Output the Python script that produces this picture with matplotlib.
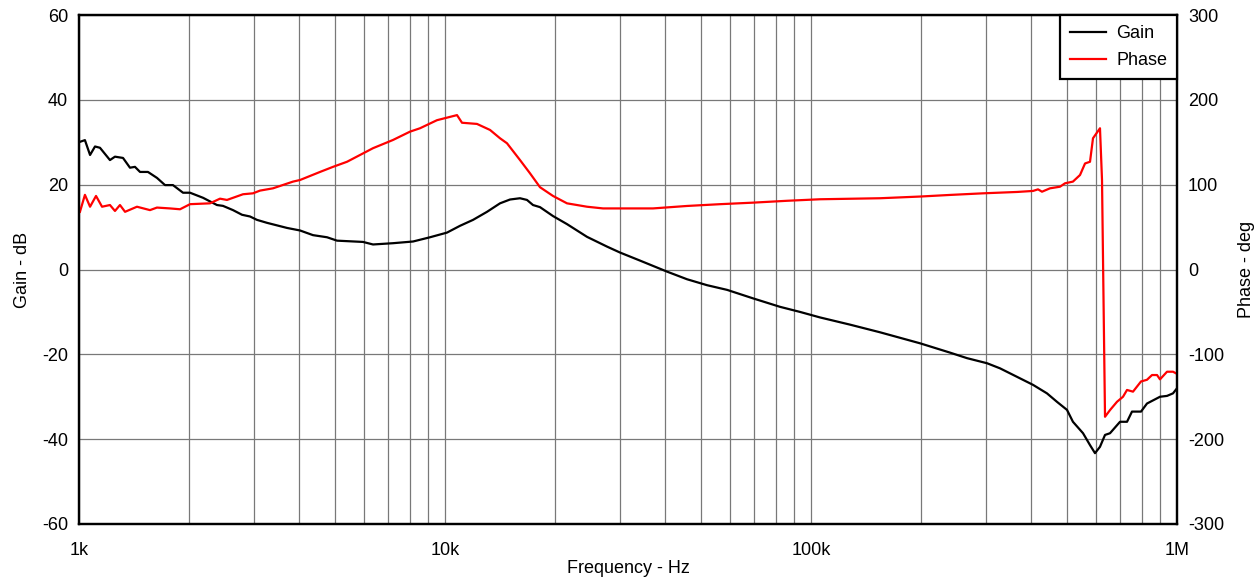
import matplotlib
matplotlib.use("Agg")
import matplotlib.pyplot as plt
from matplotlib.ticker import FixedLocator, NullFormatter, LogLocator

plt.rcParams['font.family'] = ['Liberation Sans', 'DejaVu Sans']
plt.rcParams['axes.unicode_minus'] = False

# ---- data ----
gain_freq = [1006, 1038, 1072, 1106, 1141, 1215, 1254, 1319, 1378, 1422, 1468, 1543, 1633, 1718,
             1806, 1924, 2011, 2183, 2382, 2474, 2635, 2789, 2932, 3064, 3264, 3701, 4017, 4358,
             4761, 5070, 5970, 6358, 7211, 8178, 9100, 10127, 10990, 11929, 13026, 14135, 15053,
             16031, 16749, 17395, 18180, 19728, 21544, 24434, 27711, 30071, 34105, 40427, 45850,
             51999, 58970, 69418, 82288, 93317, 105830, 127830, 154330, 198590, 239840, 266840,
             302680, 328400, 365400, 404300, 441300, 470000, 500600, 519600, 553700, 578500,
             597000, 616000, 635800, 656100, 698800, 730200, 753400, 797300, 827900, 898600,
             939100, 975200, 1000000]
gain_db = [30.1, 30.5, 27.0, 29.0, 28.7, 25.8, 26.6, 26.3, 24.0, 24.2, 23.0, 23.0, 21.6, 19.9,
           19.9, 18.1, 18.1, 16.9, 15.2, 15.0, 14.0, 12.9, 12.5, 11.7, 11.0, 9.8, 9.2, 8.1,
           7.6, 6.8, 6.5, 5.9, 6.2, 6.6, 7.6, 8.7, 10.3, 11.7, 13.6, 15.6, 16.5,
           16.8, 16.4, 15.2, 14.7, 12.6, 10.7, 7.7, 5.4, 4.0, 2.1, -0.5, -2.3,
           -3.7, -4.8, -6.8, -8.8, -10.0, -11.3, -13.0, -14.8, -17.4, -19.6, -20.9,
           -22.1, -23.3, -25.3, -27.2, -29.2, -31.2, -33.1, -35.9, -38.6, -41.4,
           -43.3, -41.8, -39.0, -38.6, -35.9, -35.9, -33.5, -33.5, -31.6, -30.0,
           -29.8, -29.2, -28.0]

phase_freq = [1006, 1038, 1072, 1113, 1156, 1215, 1254, 1294, 1336, 1440, 1563, 1633, 1772, 1888,
              2011, 2280, 2428, 2537, 2806, 2988, 3123, 3389, 3843, 4017, 4555, 4943, 5399, 6358,
              7211, 8024, 8545, 9508, 10785, 11128, 12229, 13275, 14135, 14770, 16031, 17070,
              18180, 19728, 21544, 24434, 27025, 37010, 45850, 56430, 69418, 85990, 105830,
              154330, 198590, 239840, 295100, 365400, 404300, 417100, 427700, 449800, 479000,
              494300, 519600, 543300, 560700, 578500, 589500, 616000, 623900, 635800, 656100,
              685700, 712000, 730200, 758200, 797300, 827900, 854600, 882000, 898600, 939100,
              975200, 1000000]
phase_deg = [68, 88, 74, 86.7, 74, 76, 69, 76, 68, 74, 70, 73, 72, 71,
             77, 78, 83.5, 82, 88.7, 89.8, 93, 95.7, 103.6, 105.5, 115, 121, 127, 143,
             152.7, 162.5, 166.5, 176, 182, 173, 171.6, 164.5, 154.7, 148.8, 129, 113.4,
             97, 86.7, 78, 74, 72, 72, 74.9, 77, 78.8, 81, 82.8,
             84, 86, 87.9, 89.8, 91.4, 92.6, 94.5, 91.7, 95.7, 97.6,
             101.6, 103.6, 111.4, 125, 127, 154.7, 166.5, 105.5, -173.6, -165.7,
             -155.9, -150, -142, -144, -132, -130, -124.4, -124.4, -129.5, -120.5,
             -120.5, -123]

gain_ticks = [-60, -40, -20, 0, 20, 40, 60]
phase_ticks = [-300, -200, -100, 0, 100, 200, 300]
x_ticks = [1e3, 1e4, 1e5, 1e6]
x_ticklabels = ['1k', '10k', '100k', '1M']

# ---- figure ----
fig = plt.figure(figsize=(12.6, 5.84), dpi=100)
ax = fig.add_axes([79/1260, 1 - 524/584, (1177 - 79)/1260, (524 - 15)/584])
ax2 = ax.twinx()

ax.set_xscale('log')
ax.set_xlim(1e3, 1e6)
ax.set_ylim(-60, 60)
ax2.set_ylim(-300, 300)

ax.xaxis.set_major_locator(FixedLocator(x_ticks))
ax.set_xticklabels(x_ticklabels)
ax.xaxis.set_minor_locator(LogLocator(base=10, subs=range(2, 10)))
ax.xaxis.set_minor_formatter(NullFormatter())
ax.set_yticks(gain_ticks)
ax2.set_yticks(phase_ticks)

ax.grid(True, which='both', axis='x', color='#787878', linewidth=0.9)
ax.grid(True, which='major', axis='y', color='#787878', linewidth=0.9)

for a in (ax, ax2):
    a.tick_params(which='both', length=0, labelsize=13, pad=8)
    for s in a.spines.values():
        s.set_linewidth(1.6)
        s.set_color('black')
ax.tick_params(axis='x', pad=13)

l1, = ax2.plot(gain_freq, [g * 5 for g in gain_db], color='black', linewidth=1.6, label='Gain')
l2, = ax2.plot(phase_freq, phase_deg, color='#ff0000', linewidth=1.6, label='Phase')

ax.set_xlabel('Frequency - Hz', fontsize=13, labelpad=1)
ax.set_ylabel('Gain - dB', fontsize=13, labelpad=8)
ax2.set_ylabel('Phase - deg', fontsize=13, labelpad=10)

leg = ax2.legend(handles=[l1, l2], loc='upper right', fontsize=13, frameon=True,
                 fancybox=False, framealpha=1, edgecolor='black', borderaxespad=0,
                 handlelength=2.0, handletextpad=0.55, labelspacing=0.55, borderpad=0.55)
leg.get_frame().set_linewidth(1.6)

fig.savefig('out.png', dpi=100)
